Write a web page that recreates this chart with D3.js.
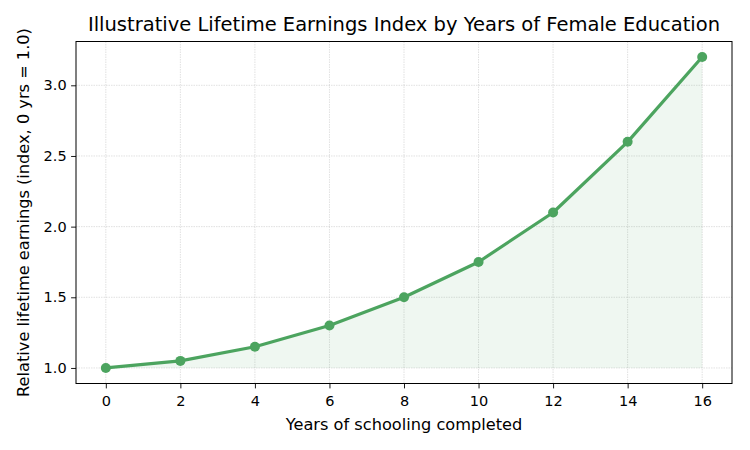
<!DOCTYPE html>
<html>
<head>
<meta charset="utf-8">
<script src="https://cdn.jsdelivr.net/npm/d3@7"></script>
<style>
  body { margin: 0; background: #fff; }
  svg text { font-family: "DejaVu Sans", sans-serif; fill: #000; }
</style>
</head>
<body>
<div class="chart"></div>
<script>
// data
var years = [0, 2, 4, 6, 8, 10, 12, 14, 16];
var earnings = [1.0, 1.05, 1.15, 1.3, 1.5, 1.75, 2.1, 2.6, 3.2];
var xTicks = [0, 2, 4, 6, 8, 10, 12, 14, 16];
var yTicks = [1.0, 1.5, 2.0, 2.5, 3.0];

var green = "#4ca45f";

var fullWidth = 750, fullHeight = 450;
var margin = { top: 41.5, right: 18, bottom: 66.5, left: 76 },
  width = fullWidth - margin.left - margin.right,
  height = fullHeight - margin.top - margin.bottom;

var svg = d3.select(".chart")
  .append("svg")
  .attr("width", fullWidth)
  .attr("height", fullHeight)
  .append("g")
  .attr("transform", `translate(${margin.left}, ${margin.top})`);

// matplotlib-like 5% padding on both axes
var xPad = (16 - 0) * 0.05;
var xScale = d3.scaleLinear().domain([0 - xPad, 16 + xPad]).range([0, width]);
var yPad = (3.2 - 1.0) * 0.05;
var yScale = d3.scaleLinear().domain([1.0 - yPad, 3.2 + yPad]).range([height, 0]);

var pts = years.map((y, i) => ({ x: y, v: earnings[i] }));

// grid
svg.append("g").selectAll("line").data(xTicks).enter().append("line")
  .attr("x1", d => xScale(d)).attr("x2", d => xScale(d))
  .attr("y1", 0).attr("y2", height)
  .attr("stroke", "#b0b0b0").attr("stroke-opacity", 0.42)
  .attr("stroke-width", 0.9).attr("stroke-dasharray", "1.5,1");
svg.append("g").selectAll("line").data(yTicks).enter().append("line")
  .attr("y1", d => yScale(d)).attr("y2", d => yScale(d))
  .attr("x1", 0).attr("x2", width)
  .attr("stroke", "#b0b0b0").attr("stroke-opacity", 0.42)
  .attr("stroke-width", 0.9).attr("stroke-dasharray", "1.5,1");

// fill under the line down to 1.0
var area = d3.area()
  .x(d => xScale(d.x))
  .y0(yScale(1.0))
  .y1(d => yScale(d.v));
svg.append("path").datum(pts)
  .attr("d", area)
  .attr("fill", green)
  .attr("fill-opacity", 0.09);

var line = d3.line().x(d => xScale(d.x)).y(d => yScale(d.v));
svg.append("path").datum(pts)
  .attr("d", line)
  .attr("fill", "none")
  .attr("stroke", green)
  .attr("stroke-width", 3.2)
  .attr("stroke-linejoin", "round");

svg.selectAll(".dot").data(pts).enter().append("circle")
  .attr("class", "dot")
  .attr("cx", d => xScale(d.x))
  .attr("cy", d => yScale(d.v))
  .attr("r", 5)
  .attr("fill", green);

// axes
var xAxis = d3.axisBottom(xScale).tickValues(xTicks).tickSize(4.9).tickPadding(7).tickFormat(d3.format("d"));
var yAxis = d3.axisLeft(yScale).tickValues(yTicks).tickSize(4.9).tickPadding(4.5).tickFormat(d3.format(".1f"));

var gx = svg.append("g").attr("transform", `translate(0, ${height})`).call(xAxis);
var gy = svg.append("g").call(yAxis);
[gx, gy].forEach(g => {
  g.select(".domain").remove();
  g.selectAll("line").attr("stroke", "#000").attr("stroke-width", 0.9);
  g.selectAll("text").style("font-size", "14.5px").attr("fill", "#000");
});

// spines
svg.append("rect")
  .attr("x", 0).attr("y", 0).attr("width", width).attr("height", height)
  .attr("fill", "none").attr("stroke", "#000").attr("stroke-width", 1);

// title and labels
svg.append("text")
  .attr("x", width / 2).attr("y", -10.5)
  .style("text-anchor", "middle")
  .style("font-size", "19.5px")
  .text("Illustrative Lifetime Earnings Index by Years of Female Education");

svg.append("text")
  .attr("x", width / 2).attr("y", height + 46.5)
  .style("text-anchor", "middle")
  .style("font-size", "16.2px")
  .text("Years of schooling completed");

svg.append("text")
  .attr("transform", "rotate(-90)")
  .attr("x", -height / 2).attr("y", -47.5)
  .style("text-anchor", "middle")
  .style("font-size", "16.2px")
  .text("Relative lifetime earnings (index, 0 yrs = 1.0)");
</script>
</body>
</html>
